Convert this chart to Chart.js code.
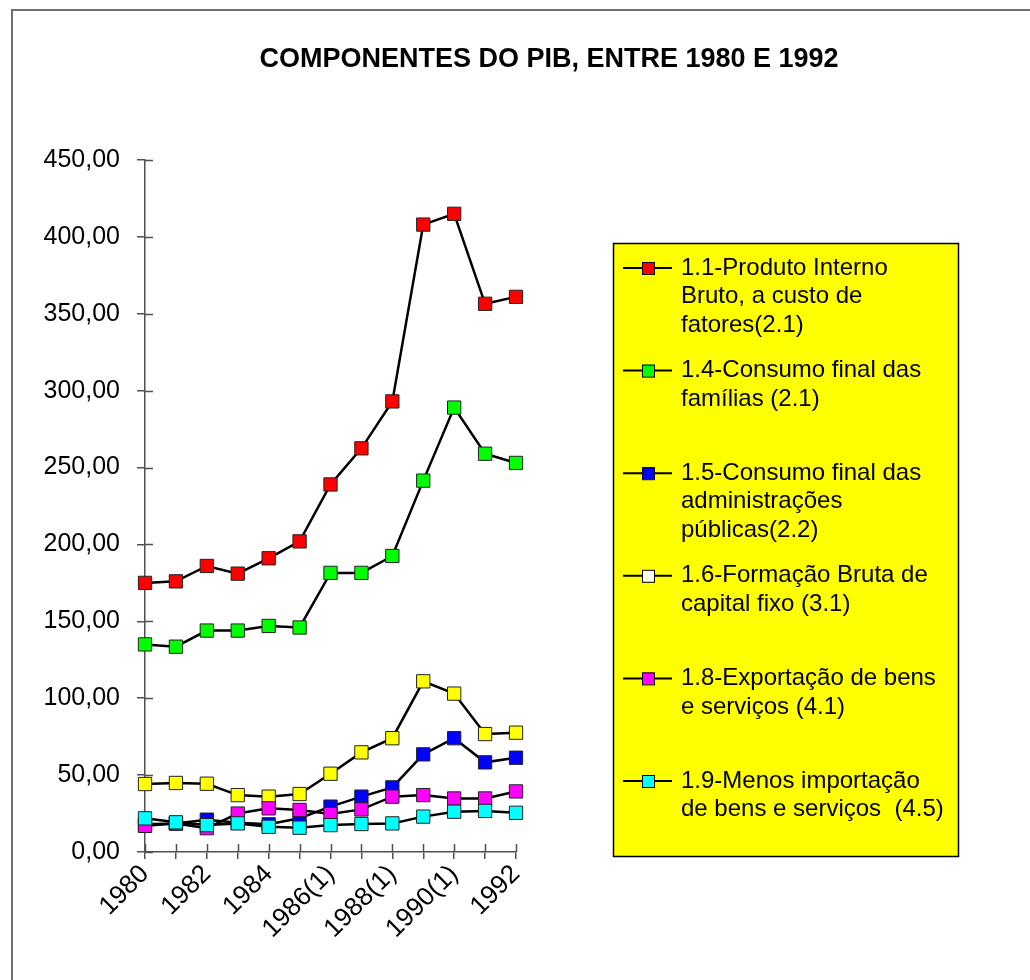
<!DOCTYPE html>
<html>
<head>
<meta charset="utf-8">
<script src="https://cdn.jsdelivr.net/npm/chart.js@4.4.1/dist/chart.umd.min.js"></script>
<style>
  html, body { margin: 0; padding: 0; background: #fff; }
  canvas { display: block; }
</style>
</head>
<body>
<canvas id="pibChart" width="1030" height="980"></canvas>
<script>
// Data (index 1980 = base)
const categories = ['1980', '1981', '1982', '1983', '1984', '1985', '1986(1)', '1987(1)', '1988(1)', '1989(1)', '1990(1)', '1991', '1992'];

const pib = [175, 176, 186, 181, 191, 202, 239, 262.5, 293, 408, 415, 356.5, 361];
const consumoFamilias = [135, 133.5, 144, 144, 147, 146, 181.5, 181.5, 192.5, 241.5, 289, 259, 253];
const consumoAdm = [18, 18.5, 21, 19, 18, 22, 29.5, 36, 42, 63.5, 74, 58.3, 61.3];
const formacaoBruta = [44.2, 44.9, 44.4, 37, 36, 37.7, 50.9, 64.8, 74, 111, 103, 76.7, 77.6];
const exportacao = [17, 18.6, 15.5, 25, 28.4, 27.3, 24.7, 27.7, 36, 37, 34.8, 34.8, 39.4];
const importacao = [21.9, 19.3, 17.5, 18.6, 16.4, 15.8, 17.5, 18.2, 18.6, 23, 26.2, 26.7, 25.5];

const seriesLabels = [
    ['1.1-Produto Interno', 'Bruto, a custo de', 'fatores(2.1)'],
    ['1.4-Consumo final das', 'famílias (2.1)'],
    ['1.5-Consumo final das', 'administrações', 'públicas(2.2)'],
    ['1.6-Formação Bruta de', 'capital fixo (3.1)'],
    ['1.8-Exportação de bens', 'e serviços (4.1)'],
    ['1.9-Menos importação', 'de bens e serviços  (4.5)']
];
const seriesData = [pib, consumoFamilias, consumoAdm, formacaoBruta, exportacao, importacao];
const markerColors = ['#FF0000', '#00FF00', '#0000FF', '#FFFF00', '#FF00FF', '#00FFFF'];
const legendColors = ['#FF0000', '#00FF00', '#0000FF', '#FFFFF0', '#FF00FF', '#00FFFF'];

const chartTitle = 'COMPONENTES DO PIB, ENTRE 1980 E 1992';
const FONT = "'Liberation Sans', Arial, sans-serif";
const AXIS_COLOR = '#505050';

// frame, title and the yellow legend box
const decorations = {
    id: 'decorations',
    beforeDraw(chart) {
        const ctx = chart.ctx;
        ctx.save();
        ctx.fillStyle = '#fff';
        ctx.fillRect(0, 0, chart.width, chart.height);
        ctx.strokeStyle = '#707070';
        ctx.lineWidth = 2;
        ctx.beginPath();
        ctx.moveTo(12, chart.height);
        ctx.lineTo(12, 10);
        ctx.lineTo(chart.width, 10);
        ctx.stroke();

        ctx.fillStyle = '#000';
        ctx.font = 'bold 27px ' + FONT;
        ctx.textAlign = 'center';
        ctx.textBaseline = 'middle';
        ctx.fillText(chartTitle, 549, 60);
        ctx.restore();
    },
    afterDraw(chart) {
        const ctx = chart.ctx;
        ctx.save();
        // legend box
        ctx.fillStyle = '#FFFF00';
        ctx.fillRect(613, 243, 345, 613);
        ctx.strokeStyle = '#000';
        ctx.lineWidth = 1.5;
        ctx.strokeRect(613.5, 243.5, 345, 613);

        ctx.font = '24px ' + FONT;
        ctx.textAlign = 'left';
        ctx.textBaseline = 'middle';
        chart.data.datasets.forEach((ds, i) => {
            const y0 = 268 + i * 102.6;
            ctx.strokeStyle = '#000';
            ctx.lineWidth = 2;
            ctx.beginPath();
            ctx.moveTo(623, y0);
            ctx.lineTo(672, y0);
            ctx.stroke();
            ctx.fillStyle = legendColors[i];
            ctx.fillRect(642, y0 - 6, 12, 12);
            ctx.lineWidth = 1;
            ctx.strokeRect(642.5, y0 - 5.5, 12, 12);
            ctx.fillStyle = '#000';
            ds.label.forEach((line, j) => {
                ctx.fillText(line, 681, y0 + j * 28.5);
            });
        });
        ctx.restore();
    }
};

// Excel-style ticks that cross the axis line
const crossTicks = {
    id: 'crossTicks',
    afterDatasetsDraw(chart) {
        const ctx = chart.ctx;
        const x = chart.scales.x, y = chart.scales.y;
        ctx.save();
        ctx.strokeStyle = AXIS_COLOR;
        ctx.lineWidth = 1.5;
        ctx.beginPath();
        y.ticks.forEach((t, i) => {
            const py = Math.round(y.getPixelForTick(i)) + 0.5;
            ctx.moveTo(x.left, py);
            ctx.lineTo(x.left + 8, py);
        });
        x.ticks.forEach((t, i) => {
            const px = Math.round(x.getPixelForTick(i)) + 0.5;
            ctx.moveTo(px, y.bottom);
            ctx.lineTo(px, y.bottom - 8);
        });
        ctx.stroke();
        ctx.restore();
    }
};

const datasets = seriesData.map((data, i) => ({
    label: seriesLabels[i],
    data: data,
    borderColor: '#000',
    borderWidth: 2.5,
    tension: 0,
    pointStyle: 'rect',
    pointRadius: 9.4,
    pointHoverRadius: 9.4,
    pointBackgroundColor: markerColors[i],
    pointBorderColor: '#222',
    pointBorderWidth: 1,
    order: seriesData.length - i
}));

new Chart(document.getElementById('pibChart'), {
    type: 'line',
    data: { labels: categories, datasets: datasets },
    options: {
        responsive: false,
        animation: false,
        events: [],
        layout: { padding: { top: 160, right: 514, left: 0, bottom: 0 } },
        plugins: {
            legend: { display: false },
            title: { display: false },
            tooltip: { enabled: false }
        },
        scales: {
            x: {
                offset: false,
                grid: { drawOnChartArea: false, color: AXIS_COLOR, lineWidth: 1.5, tickLength: 7 },
                border: { color: AXIS_COLOR, width: 1.5 },
                ticks: {
                    autoSkip: false,
                    minRotation: 45,
                    maxRotation: 45,
                    color: '#000',
                    padding: 0,
                    font: { family: FONT, size: 26 },
                    callback: function (value, index) { return index % 2 === 0 ? this.getLabelForValue(value) : ''; }
                },
                afterFit(scale) { scale.height = 128; }
            },
            y: {
                min: 0,
                max: 450,
                grid: { drawOnChartArea: false, color: AXIS_COLOR, lineWidth: 1.5, tickLength: 8 },
                border: { color: AXIS_COLOR, width: 1.5 },
                ticks: {
                    stepSize: 50,
                    color: '#000',
                    padding: 17,
                    font: { family: FONT, size: 25 },
                    callback: (value) => value.toFixed(2).replace('.', ',')
                },
                afterFit(scale) { scale.width = 145; }
            }
        }
    },
    plugins: [decorations, crossTicks]
});
</script>
</body>
</html>
